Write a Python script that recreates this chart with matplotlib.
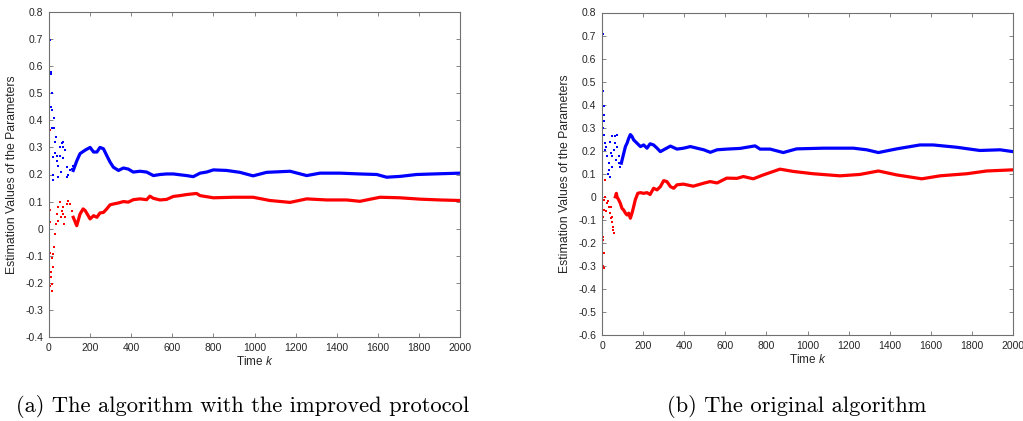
import numpy as np
import matplotlib
matplotlib.use('Agg')
import matplotlib.pyplot as plt
from matplotlib.ticker import MultipleLocator, FuncFormatter

plt.rcParams['font.family'] = ['Liberation Sans', 'DejaVu Sans']
plt.rcParams['mathtext.fontset'] = 'custom'
plt.rcParams['mathtext.it'] = 'Liberation Sans:italic'
plt.rcParams['axes.unicode_minus'] = False

# ---- (a) improved protocol: early scattered estimates ----
a_blue_early_k = [2, 5, 2, 8, 10, 13, 8, 16, 26, 17, 26, 29, 30, 21, 21, 18, 45, 45, 54, 54,
                  62, 70, 70, 78, 86, 94, 102, 37, 33, 40, 60, 66, 90, 110, 118]
a_blue_early_v = [0.777, 0.696, 0.615, 0.58, 0.57, 0.50, 0.45, 0.437, 0.41, 0.37, 0.37, 0.32, 0.28, 0.264,
                  0.20, 0.178, 0.19, 0.23, 0.30, 0.27, 0.315, 0.30, 0.32, 0.29, 0.227, 0.20, 0.215,
                  0.25, 0.34, 0.27, 0.21, 0.26, 0.19, 0.22, 0.23]
a_red_early_k = [5, 5, 5, 5, 8, 13, 13, 21, 21, 24, 29, 33, 37, 45, 54, 58, 62, 70, 74, 78,
                 86, 94, 102, 110, 118, 3, 10, 16, 42, 66]
a_red_early_v = [0.363, 0.069, 0.023, -0.088, -0.18, -0.205, -0.23, -0.143, -0.094, -0.069, -0.02, 0.017,
                 0.054, 0.079, 0.098, 0.042, 0.067, 0.054, 0.017, 0.042, 0.091, 0.104, 0.091, 0.067,
                 0.042, -0.21, -0.16, -0.11, 0.03, 0.08]

# ---- (a) later trajectory ----
a_blue_k = [118, 135, 151, 176, 200, 217, 233, 248, 265, 281, 297, 313, 338, 362, 386, 410, 443,
            475, 508, 540, 572, 605, 637, 670, 702, 735, 767, 800, 864, 929, 993, 1059, 1173,
            1254, 1319, 1416, 1513, 1595, 1643, 1708, 1789, 1870, 2000]
a_blue_v = [0.215, 0.25, 0.277, 0.29, 0.30, 0.283, 0.283, 0.30, 0.295, 0.27, 0.246, 0.227, 0.215,
            0.224, 0.22, 0.209, 0.212, 0.209, 0.196, 0.20, 0.202, 0.202, 0.199, 0.196, 0.192, 0.205,
            0.209, 0.217, 0.215, 0.208, 0.195, 0.208, 0.212, 0.196, 0.205, 0.205, 0.202, 0.20,
            0.19, 0.193, 0.20, 0.202, 0.205]
a_red_k = [118, 135, 151, 166, 176, 200, 217, 233, 248, 265, 281, 297, 313, 338, 362, 386, 410,
           443, 475, 491, 508, 540, 572, 605, 637, 670, 718, 735, 800, 900, 993, 1075, 1173, 1254,
           1351, 1448, 1513, 1611, 1708, 1805, 1903, 2000]
a_red_v = [0.042, 0.011, 0.054, 0.073, 0.067, 0.036, 0.048, 0.042, 0.058, 0.06, 0.073, 0.088, 0.091,
           0.095, 0.10, 0.098, 0.107, 0.11, 0.107, 0.12, 0.112, 0.106, 0.108, 0.119, 0.122, 0.126,
           0.13, 0.122, 0.114, 0.116, 0.116, 0.104, 0.097, 0.11, 0.106, 0.106, 0.101, 0.116, 0.114,
           0.109, 0.106, 0.104]

# ---- (b) original algorithm: early scattered estimates ----
b_blue_early_k = [1, 3, 1, 2, 3, 8, 11, 8, 5, 11, 16, 16, 24, 32, 32, 37, 20, 41, 49, 45, 57,
                  49, 49, 62, 65, 73, 73, 70, 81, 84, 89, 94, 28]
b_blue_early_v = [0.79, 0.707, 0.594, 0.573, 0.461, 0.392, 0.355, 0.327, 0.298, 0.269, 0.233, 0.204,
                  0.175, 0.146, 0.117, 0.088, 0.218, 0.24, 0.262, 0.189, 0.204, 0.175, 0.131, 0.233,
                  0.262, 0.269, 0.218, 0.16, 0.175, 0.146, 0.131, 0.146, 0.10]
b_red_early_k = [1, 3, 8, 11, 5, 5, 5, 11, 8, 16, 16, 24, 32, 37, 49, 45, 49, 54, 57, 52, 20, 28, 42]
b_red_early_v = [-0.43, -0.30, -0.31, -0.245, -0.173, -0.187, -0.086, -0.057, -0.013, 0.073, 0.001,
                 -0.028, -0.043, -0.071, -0.086, -0.043, -0.108, -0.144, -0.158, -0.13, -0.06,
                 -0.02, -0.09]

# ---- (b) later trajectory ----
b_blue_k = [94, 102, 114, 122, 130, 138, 146, 154, 170, 187, 203, 219, 234, 251, 268, 284, 300,
            333, 365, 397, 430, 462, 495, 527, 560, 607, 672, 745, 769, 818, 882, 947, 1077, 1223,
            1288, 1345, 1434, 1547, 1612, 1726, 1839, 1937, 2000]
b_blue_v = [0.146, 0.175, 0.218, 0.233, 0.254, 0.270, 0.262, 0.247, 0.233, 0.218, 0.225, 0.211,
            0.23, 0.225, 0.211, 0.196, 0.204, 0.22, 0.207, 0.211, 0.218, 0.211, 0.204, 0.193,
            0.204, 0.207, 0.21, 0.221, 0.207, 0.207, 0.192, 0.208, 0.211, 0.211, 0.204, 0.192,
            0.208, 0.225, 0.225, 0.215, 0.201, 0.204, 0.196]
b_red_k = [65, 70, 73, 81, 89, 97, 105, 114, 122, 130, 138, 146, 154, 162, 174, 187, 203, 219,
           234, 251, 268, 284, 300, 316, 333, 349, 365, 396, 444, 495, 526, 560, 607, 657, 688,
           736, 785, 866, 931, 1028, 1158, 1255, 1345, 1434, 1556, 1645, 1775, 1872, 2000]
b_red_v = [0.0, 0.015, 0.0, -0.013, -0.028, -0.05, -0.057, -0.071, -0.079, -0.071, -0.093, -0.071,
           -0.043, -0.013, 0.015, 0.018, 0.015, 0.018, 0.01, 0.037, 0.03, 0.044, 0.07, 0.066,
           0.044, 0.037, 0.052, 0.055, 0.046, 0.059, 0.066, 0.06, 0.081, 0.08, 0.088, 0.078,
           0.095, 0.12, 0.11, 0.10, 0.091, 0.097, 0.112, 0.095, 0.078, 0.091, 0.10, 0.112, 0.117]

a_ylim = (-0.4, 0.8)
b_ylim = (-0.6, 0.8)
captions = ['(a) The algorithm with the improved protocol', '(b) The original algorithm']

BLUE = '#0000ff'
RED = '#ff0000'
AXC = '#707070'

fig = plt.figure(figsize=(10.23, 4.21), dpi=100)
ax1 = fig.add_axes([49 / 1023, 1 - 337 / 421, 411 / 1023, 325 / 421])
ax2 = fig.add_axes([602 / 1023, 1 - 335 / 421, 411 / 1023, 322.5 / 421])


def fmt(v, pos):
    s = '%g' % round(v, 2)
    return '0' if s in ('-0', '0') else s


def draw(ax, be_k, be_v, re_k, re_v, b_k, b_v, r_k, r_v, ylim):
    ax.plot(be_k, be_v, 's', color=BLUE, ms=2.0, mew=0)
    ax.plot(re_k, re_v, 's', color=RED, ms=2.0, mew=0)
    ax.plot(b_k, b_v, '-', color=BLUE, lw=2.3, solid_joinstyle='round')
    ax.plot(r_k, r_v, '-', color=RED, lw=2.3, solid_joinstyle='round')
    ax.set_xlim(0, 2000)
    ax.set_ylim(*ylim)
    ax.xaxis.set_major_locator(MultipleLocator(200))
    ax.yaxis.set_major_locator(MultipleLocator(0.1))
    ax.yaxis.set_major_formatter(FuncFormatter(fmt))
    ax.tick_params(direction='in', top=True, right=True, length=3, width=0.6,
                   colors='#262626', labelsize=7.5, pad=4)
    ax.tick_params(axis='both', color=AXC)
    for sp in ax.spines.values():
        sp.set_color(AXC)
        sp.set_linewidth(0.8)
    ax.set_xlabel(r'Time $k$', fontsize=8.5, color='#262626', labelpad=2)
    ax.set_ylabel('Estimation Values of the Parameters', fontsize=8.8, color='#262626', labelpad=5)


draw(ax1, a_blue_early_k, a_blue_early_v, a_red_early_k, a_red_early_v,
     a_blue_k, a_blue_v, a_red_k, a_red_v, a_ylim)
draw(ax2, b_blue_early_k, b_blue_early_v, b_red_early_k, b_red_early_v,
     b_blue_k, b_blue_v, b_red_k, b_red_v, b_ylim)

fig.text(243 / 1023, 1 - 407 / 421, captions[0], family='cmr10', fontsize=16.2,
         ha='center', va='center')
fig.text(797 / 1023, 1 - 407 / 421, captions[1], family='cmr10', fontsize=16.2,
         ha='center', va='center')

fig.savefig('out.png', dpi=100)
